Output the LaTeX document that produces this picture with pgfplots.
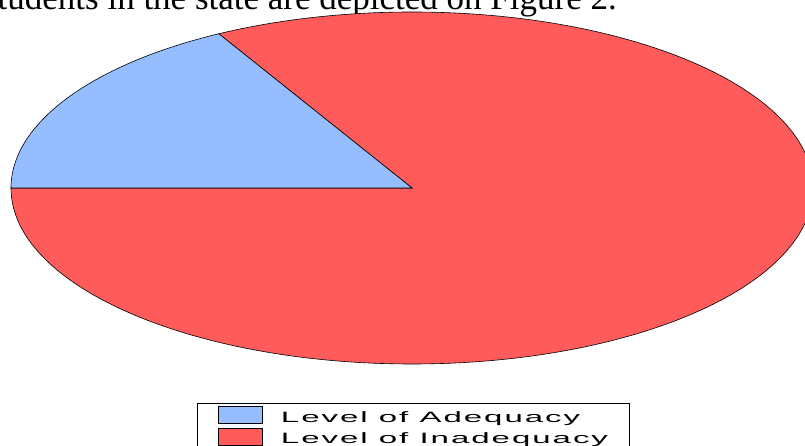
\documentclass[border=0pt]{standalone}
\usepackage{pgfplots}
\pgfplotsset{compat=1.18}
\usepackage{pgfplotstable}
\usepackage{graphicx}
\usepackage{fontspec}
\setmainfont{Liberation Serif}
\newfontfamily\legfont[LetterSpace=6]{Liberation Sans}
\definecolor{adeq}{RGB}{149,189,255}
\definecolor{inadeq}{RGB}{255,91,91}
\newcommand\legtext[1]{\scalebox{2.2}[1]{\legfont\fontsize{15}{18}\selectfont #1}}
\pgfplotstableread{
label value
Adequacy 17
Inadequacy 83
}\piedata
\begin{document}
\begin{tikzpicture}
\useasboundingbox (0,0) rectangle (805pt,446pt);
\clip (0,0) rectangle (805pt,446pt);
\node[anchor=base east, inner sep=0pt, font=\fontsize{35}{40}\selectfont] at (617pt,436pt) {students in the state are depicted on Figure 2.};
\pgfplotstablegetelem{0}{value}\of\piedata
\pgfmathsetmacro{\va}{\pgfplotsretval}
\pgfmathsetmacro{\aend}{180-3.6*\va}
\begin{axis}[at={(412pt,258pt)}, anchor=center, scale only axis,
  width=802pt, height=352pt, hide axis,
  xmin=-1, xmax=1, ymin=-1, ymax=1, clip=false,
  legend style={at={(0.2319,-0.1108)}, anchor=north west, draw=black,
    line width=0.8pt, inner xsep=21pt, inner ysep=3pt, row sep=1pt,
    column sep=18pt, nodes={inner sep=0pt, text height=12pt, text depth=5pt}},
  legend cell align=left,
  legend image code/.code={\draw[#1, line width=0.6pt] (0pt,-5pt) rectangle (44pt,12pt);},
]
\addlegendimage{fill=adeq, draw=black}
\addlegendentry{\legtext{Level of Adequacy}}
\addlegendimage{fill=inadeq, draw=black}
\addlegendentry{\legtext{Level of Inadequacy}}
\fill[inadeq, draw=black, line width=0.6pt] (axis cs:0,0) -- (axis cs:-1,0) arc[start angle=-180, end angle=\aend, radius=1] -- cycle;
\fill[adeq, draw=black, line width=0.6pt] (axis cs:0,0) -- (axis cs:-1,0) arc[start angle=180, end angle=\aend, radius=1] -- cycle;
\end{axis}
\end{tikzpicture}
\end{document}
